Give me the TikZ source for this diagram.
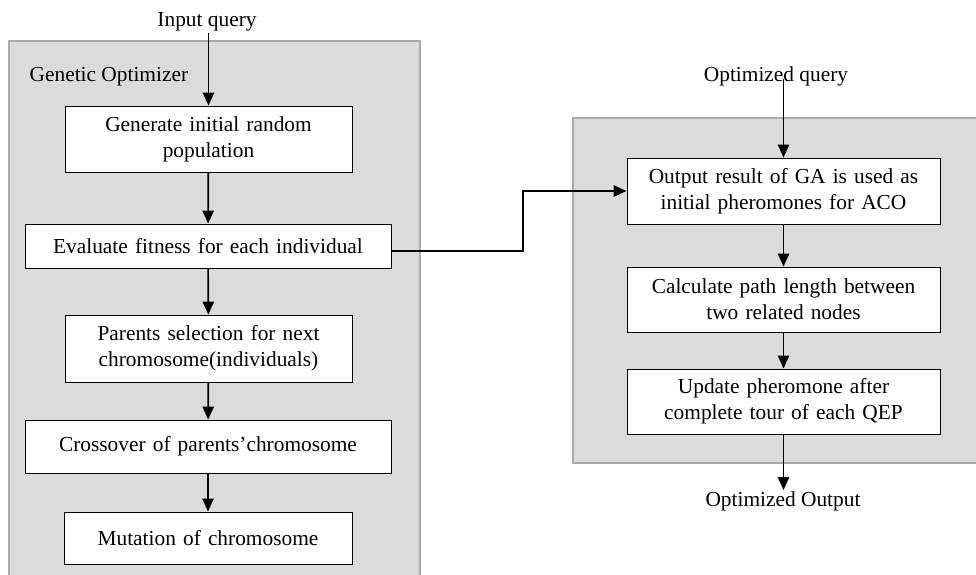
\documentclass[tikz,border=0pt]{standalone}
\usepackage{fontspec}
\setmainfont{Liberation Serif}
\usetikzlibrary{arrows.meta,positioning}
\definecolor{panelgray}{HTML}{DBDBDB}
\definecolor{panelline}{HTML}{ABABAB}
\tikzstyle{stepbox} = [rectangle, draw=black, fill=white, line width=0.7pt, align=center, inner sep=0pt, font=\fontsize{15.2}{18.5}\selectfont]
\tikzstyle{arrow} = [line width=1.2pt,-{Triangle[length=3.2mm,width=2.8mm]}]
\tikzstyle{caption} = [font=\fontsize{15.2}{18.5}\selectfont, inner sep=1pt]

\begin{document}
\begin{tikzpicture}
    \useasboundingbox (0,0) rectangle (24.4,14.35);

    % grey panels
    \filldraw[fill=panelgray, draw=panelline, line width=1pt] (0.225,-0.5) rectangle (10.5,13.325);
    \filldraw[fill=panelgray, draw=panelline, line width=1pt] (14.325,2.775) rectangle (25,11.4);

    \node[caption] (ganame) at (0.7,12.425) [right] {Genetic Optimizer};

    % genetic optimizer steps
    \node[stepbox, text width=7.175cm, minimum height=1.65cm]  (initpop)   at (5.2125,10.875) {Generate initial random\\population};
    \node[stepbox, text width=9.15cm,  minimum height=1.1cm]   (evalfit)   at (5.2,8.2)       {Evaluate fitness for each individual};
    \node[stepbox, text width=7.175cm, minimum height=1.675cm] (parentsel) at (5.2125,5.6375) {Parents selection for next\\chromosome(individuals)};
    \node[stepbox, text width=9.15cm,  minimum height=1.325cm] (crossover) at (5.2,3.1875)    {Crossover of parents'chromosome};
    \node[stepbox, text width=7.2cm,   minimum height=1.3cm]   (mutation)  at (5.2,0.9)       {Mutation of chromosome};

    % ant colony steps
    \node[stepbox, text width=7.825cm, minimum height=1.65cm]  (gainit)    at (19.5875,9.575)  {Output result of GA is used as\\initial pheromones for ACO};
    \node[stepbox, text width=7.825cm, minimum height=1.625cm] (pathlen)   at (19.5875,6.8625) {Calculate path length between\\two related nodes};
    \node[stepbox, text width=7.825cm, minimum height=1.625cm] (updphero)  at (19.5875,4.3125) {Update pheromone after\\complete tour of each QEP};

    % in and out
    \node[caption] (inquery)  at (5.175,13.8) {Input query};
    \node[caption] (optquery) at (19.4,12.45) {Optimized query};
    \node[caption] (optout)   at (19.575,2.1) [below] {Optimized Output};

    \draw[arrow] (inquery.south -| initpop.north) -- (initpop.north);
    \draw[arrow] (initpop) -- (evalfit);
    \draw[arrow] (evalfit) -- (parentsel);
    \draw[arrow] (parentsel) -- (crossover);
    \draw[arrow] (crossover) -- (mutation);

    \coordinate (bend) at (13.075,0);
    \draw[arrow] ([yshift=-1.25mm]evalfit.east) -| (bend |- gainit.west) -- (gainit.west);

    \draw[arrow] ([yshift=2mm]optquery.south -| gainit.north) -- (gainit.north);
    \draw[arrow] (gainit) -- (pathlen);
    \draw[arrow] (pathlen) -- (updphero);
    \draw[arrow] (updphero.south) -- (updphero.south |- optout.north);
\end{tikzpicture}
\end{document}
